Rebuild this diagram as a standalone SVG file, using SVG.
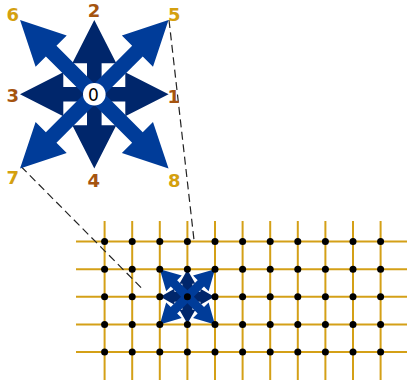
<svg xmlns="http://www.w3.org/2000/svg" xmlns:xlink="http://www.w3.org/1999/xlink" width="407" height="384" viewBox="0 0 407 384">
  <style>
    .card { fill: #00266b; }
    .diag { fill: #003c99; }
    .grid line { stroke: #d4a017; stroke-width: 2; }
    .dot { fill: #000; }
    .dash { stroke: #222; stroke-width: 1.2; stroke-dasharray: 8 4.5; fill: none; }
    .lbl { font-family: "DejaVu Sans", sans-serif; font-size: 18px; font-weight: bold; text-anchor: middle; }
    .brown { fill: #a5540f; }
    .gold { fill: #d4a00f; }
    .zero { font-family: "DejaVu Sans", sans-serif; font-size: 17px; text-anchor: middle; fill: #000; }
  </style>
  <defs>
    <!-- large star: arrows pointing straight up from the origin -->
    <path id="arrow-card" d="M -7.3 0 L -7.3 -31 L -22 -31 L 0 -74.3 L 22 -31 L 7.3 -31 L 7.3 0 Z"/>
    <path id="arrow-diag" d="M -7.5 0 L -7.5 -61 L -22 -61 L 0 -105 L 22 -61 L 7.5 -61 L 7.5 0 Z"/>
    <!-- small star: same arrows, heavier relative to their length -->
    <path id="arrow-card-s" d="M -5 0 L -5 -13 L -8 -13 L 0 -27 L 8 -13 L 5 -13 L 5 0 Z"/>
    <path id="arrow-diag-s" d="M -4.5 0 L -4.5 -19 L -11 -19 L 0 -39 L 11 -19 L 4.5 -19 L 4.5 0 Z"/>
    <g id="star">
      <use xlink:href="#arrow-card" class="card"/>
      <use xlink:href="#arrow-card" class="card" transform="rotate(90)"/>
      <use xlink:href="#arrow-card" class="card" transform="rotate(180)"/>
      <use xlink:href="#arrow-card" class="card" transform="rotate(270)"/>
      <use xlink:href="#arrow-diag" class="diag" transform="rotate(45)"/>
      <use xlink:href="#arrow-diag" class="diag" transform="rotate(135)"/>
      <use xlink:href="#arrow-diag" class="diag" transform="rotate(225)"/>
      <use xlink:href="#arrow-diag" class="diag" transform="rotate(315)"/>
    </g>
    <g id="star-s">
      <use xlink:href="#arrow-card-s" class="card"/>
      <use xlink:href="#arrow-card-s" class="card" transform="rotate(90)"/>
      <use xlink:href="#arrow-card-s" class="card" transform="rotate(180)"/>
      <use xlink:href="#arrow-card-s" class="card" transform="rotate(270)"/>
      <use xlink:href="#arrow-diag-s" class="diag" transform="rotate(45)"/>
      <use xlink:href="#arrow-diag-s" class="diag" transform="rotate(135)"/>
      <use xlink:href="#arrow-diag-s" class="diag" transform="rotate(225)"/>
      <use xlink:href="#arrow-diag-s" class="diag" transform="rotate(315)"/>
    </g>
  </defs>

  <!-- lattice lines -->
  <g id="grid-lines" class="grid">
    <line x1="76" y1="241.6" x2="407" y2="241.6"/>
    <line x1="76" y1="269.2" x2="407" y2="269.2"/>
    <line x1="76" y1="296.8" x2="407" y2="296.8"/>
    <line x1="76" y1="324.4" x2="407" y2="324.4"/>
    <line x1="76" y1="352" x2="407" y2="352"/>
    <line x1="104.6" y1="221" x2="104.6" y2="380"/>
    <line x1="132.2" y1="221" x2="132.2" y2="380"/>
    <line x1="159.8" y1="221" x2="159.8" y2="380"/>
    <line x1="187.4" y1="221" x2="187.4" y2="380"/>
    <line x1="215" y1="221" x2="215" y2="380"/>
    <line x1="242.6" y1="221" x2="242.6" y2="380"/>
    <line x1="270.2" y1="221" x2="270.2" y2="380"/>
    <line x1="297.8" y1="221" x2="297.8" y2="380"/>
    <line x1="325.4" y1="221" x2="325.4" y2="380"/>
    <line x1="353" y1="221" x2="353" y2="380"/>
    <line x1="380.6" y1="221" x2="380.6" y2="380"/>
  </g>

  <!-- small star sitting on a lattice site -->
  <g id="node-star-small">
    <use xlink:href="#star-s" transform="translate(187.4 296.8)"/>
  </g>

  <!-- lattice sites -->
  <g id="grid-dots" class="dot">
    <circle cx="104.6" cy="241.6" r="3.5"/><circle cx="132.2" cy="241.6" r="3.5"/><circle cx="159.8" cy="241.6" r="3.5"/><circle cx="187.4" cy="241.6" r="3.5"/><circle cx="215" cy="241.6" r="3.5"/><circle cx="242.6" cy="241.6" r="3.5"/><circle cx="270.2" cy="241.6" r="3.5"/><circle cx="297.8" cy="241.6" r="3.5"/><circle cx="325.4" cy="241.6" r="3.5"/><circle cx="353" cy="241.6" r="3.5"/><circle cx="380.6" cy="241.6" r="3.5"/>
    <circle cx="104.6" cy="269.2" r="3.5"/><circle cx="132.2" cy="269.2" r="3.5"/><circle cx="159.8" cy="269.2" r="3.5"/><circle cx="187.4" cy="269.2" r="3.5"/><circle cx="215" cy="269.2" r="3.5"/><circle cx="242.6" cy="269.2" r="3.5"/><circle cx="270.2" cy="269.2" r="3.5"/><circle cx="297.8" cy="269.2" r="3.5"/><circle cx="325.4" cy="269.2" r="3.5"/><circle cx="353" cy="269.2" r="3.5"/><circle cx="380.6" cy="269.2" r="3.5"/>
    <circle cx="104.6" cy="296.8" r="3.5"/><circle cx="132.2" cy="296.8" r="3.5"/><circle cx="159.8" cy="296.8" r="3.5"/><circle cx="187.4" cy="296.8" r="3.5"/><circle cx="215" cy="296.8" r="3.5"/><circle cx="242.6" cy="296.8" r="3.5"/><circle cx="270.2" cy="296.8" r="3.5"/><circle cx="297.8" cy="296.8" r="3.5"/><circle cx="325.4" cy="296.8" r="3.5"/><circle cx="353" cy="296.8" r="3.5"/><circle cx="380.6" cy="296.8" r="3.5"/>
    <circle cx="104.6" cy="324.4" r="3.5"/><circle cx="132.2" cy="324.4" r="3.5"/><circle cx="159.8" cy="324.4" r="3.5"/><circle cx="187.4" cy="324.4" r="3.5"/><circle cx="215" cy="324.4" r="3.5"/><circle cx="242.6" cy="324.4" r="3.5"/><circle cx="270.2" cy="324.4" r="3.5"/><circle cx="297.8" cy="324.4" r="3.5"/><circle cx="325.4" cy="324.4" r="3.5"/><circle cx="353" cy="324.4" r="3.5"/><circle cx="380.6" cy="324.4" r="3.5"/>
    <circle cx="104.6" cy="352" r="3.5"/><circle cx="132.2" cy="352" r="3.5"/><circle cx="159.8" cy="352" r="3.5"/><circle cx="187.4" cy="352" r="3.5"/><circle cx="215" cy="352" r="3.5"/><circle cx="242.6" cy="352" r="3.5"/><circle cx="270.2" cy="352" r="3.5"/><circle cx="297.8" cy="352" r="3.5"/><circle cx="325.4" cy="352" r="3.5"/><circle cx="353" cy="352" r="3.5"/><circle cx="380.6" cy="352" r="3.5"/>
  </g>

  <!-- zoom guides from the large star down to the lattice -->
  <g id="connectors">
    <line class="dash" x1="169" y1="20" x2="194" y2="240"/>
    <line class="dash" x1="21" y1="166.5" x2="144" y2="290.5"/>
  </g>

  <!-- large labelled star -->
  <g id="node-star-large">
    <use xlink:href="#star" transform="translate(94.3 94.3)"/>
    <circle cx="94.3" cy="94.3" r="11.3" fill="#fff"/>
    <text class="zero" x="93.5" y="100.7">0</text>
  </g>

  <g id="labels">
    <text class="lbl brown" x="173.7" y="103">1</text>
    <text class="lbl brown" x="94" y="16.9">2</text>
    <text class="lbl brown" x="12.8" y="101.7">3</text>
    <text class="lbl brown" x="93.8" y="186.7">4</text>
    <text class="lbl gold" x="174.2" y="20.7">5</text>
    <text class="lbl gold" x="12.8" y="20.7">6</text>
    <text class="lbl gold" x="12.8" y="184">7</text>
    <text class="lbl gold" x="174.2" y="186.7">8</text>
  </g>
</svg>
